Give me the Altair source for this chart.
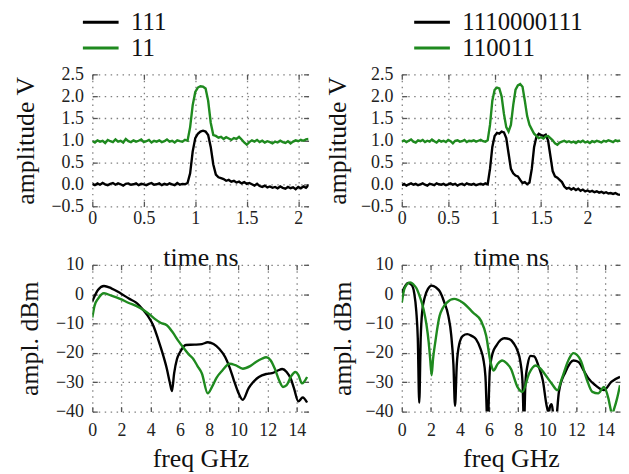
import altair as alt
import pandas as pd

# ---------------- data ----------------
TL_NAMES = ["111", "11"]
TR_NAMES = ["1110000111", "110011"]
STEP_T = 0.025

TL_BLACK = [0.01, -0.02, 0.02, -0.01, 0.03, 0.00, -0.02, 0.01, 0.03, -0.01, 0.02, 0.00, -0.03, 0.01,
            0.02, -0.01, 0.00, 0.02, -0.02, 0.01, 0.00, -0.02, 0.01, 0.03, -0.01, 0.00, 0.02, -0.02,
            0.01, -0.01, 0.02, 0.00, -0.02, 0.03, -0.01, 0.01, 0.00, 0.03,
            0.25, 0.75, 1.05, 1.15, 1.20, 1.22, 1.20, 1.12, 0.85, 0.45, 0.22, 0.16, 0.14, 0.12, 0.08,
            0.10, 0.06, 0.08, 0.04, 0.06, 0.02, 0.05, 0.01, 0.03, 0.00, -0.03, 0.01, -0.04, -0.06,
            -0.03, -0.07, -0.05, -0.08, -0.06, -0.09, -0.05, -0.08, -0.10, -0.06, -0.09, -0.07,
            -0.11, -0.06, -0.09, -0.05, -0.08, -0.02]
TL_GREEN = [0.98, 0.95, 1.00, 0.97, 0.99, 0.94, 1.01, 0.98, 0.96, 1.02, 0.97, 0.99, 0.95, 1.03,
            0.98, 0.96, 1.00, 0.97, 0.99, 1.02, 0.96, 0.98, 1.01, 0.95, 0.99, 0.97, 1.00, 0.96,
            0.98, 1.02, 0.97, 0.99, 0.95, 1.00, 0.98, 0.97, 1.01, 0.99,
            1.30, 1.80, 2.10, 2.20, 2.23, 2.22, 2.18, 1.90, 1.40, 1.12, 1.10, 1.06, 1.08, 1.03, 1.07,
            1.04, 1.01, 1.05, 1.03, 1.08, 1.02, 0.95, 0.90, 0.96, 1.00, 0.97, 1.01, 0.96, 0.99,
            0.95, 0.98, 0.96, 0.93, 0.97, 0.95, 0.99, 0.96, 0.94, 0.98, 0.93, 0.97, 1.00, 0.98,
            1.01, 0.99, 1.02, 1.03]
TR_BLACK = [-0.02, 0.01, -0.03, 0.00, 0.02, -0.01, 0.01, -0.02, 0.00, 0.02, -0.01, -0.03, 0.01,
            0.00, -0.02, 0.02, 0.00, -0.01, 0.01, -0.02, 0.00, 0.02, -0.01, 0.01, -0.03, 0.00,
            0.01, -0.02, 0.02, 0.00, -0.01, 0.01, -0.02, 0.00, 0.01, -0.01, 0.02, 0.00,
            0.35, 0.85, 1.10, 1.17, 1.15, 1.20, 1.18, 1.05, 0.70, 0.35, 0.25, 0.20, 0.18, 0.10,
            0.03, 0.05, 0.00, 0.04,
            0.35, 0.85, 1.08, 1.15, 1.12, 1.10, 1.13, 1.00, 0.65, 0.30, 0.18, 0.15, 0.10, 0.05,
            -0.05, -0.10,
            -0.08, -0.12, -0.09, -0.13, -0.10, -0.15, -0.12, -0.16, -0.14, -0.17, -0.15, -0.18,
            -0.16, -0.19, -0.17, -0.20, -0.18, -0.21, -0.20, -0.22, -0.20, -0.23, -0.24]
TR_GREEN = [0.97, 1.00, 0.96, 0.99, 1.02, 0.97, 0.95, 1.00, 0.98, 1.01, 0.96, 0.99, 0.97, 1.02,
            0.98, 0.95, 1.00, 0.97, 0.99, 0.96, 1.01, 0.98, 0.93, 0.99, 1.00, 0.97, 0.98, 1.01,
            0.96, 0.99, 0.98, 1.00, 0.97, 0.99, 1.01, 0.98, 0.97, 1.00,
            1.35, 1.90, 2.15, 2.20, 2.18, 2.00, 1.60, 1.30, 1.20, 1.35, 1.80, 2.15, 2.25, 2.28,
            2.22, 1.90, 1.55, 1.35,
            1.25, 1.15, 1.10, 1.05, 1.07, 1.04, 1.09, 1.10, 1.05, 1.00, 0.93, 0.90, 0.95, 0.97,
            0.99, 0.96,
            0.98, 0.95, 0.97, 0.94, 0.98, 0.96, 0.99, 0.95, 0.97, 0.94, 0.98, 0.96, 0.99, 0.97,
            0.95, 0.99, 0.97, 1.00, 0.98, 0.96, 1.00, 0.98, 1.00]

BL_BLACK_F = [0, 0.4, 0.8, 1.3, 1.9, 2.5, 3.0, 3.5, 3.8, 4.2, 4.5, 4.8, 5.1, 5.3, 5.45, 5.6, 5.8,
              6.0, 6.4, 7.0, 7.5, 7.9, 8.3, 8.7, 9.1, 9.4, 9.7, 9.95, 10.3, 10.7, 11.0, 11.4,
              11.9, 12.3, 12.7, 13.0, 13.3, 13.6, 13.8, 14.1, 14.4, 14.7]
BL_BLACK_V = [-2.4, 1.5, 2.8, 2.0, 0.4, -1.5, -2.9, -5.5, -7.4, -11, -15.3, -20, -25.4, -30, -33,
              -27, -22, -19.8, -17.3, -17.2, -17.0, -16.4, -17.0, -18.7, -21.5, -25, -29.5, -33,
              -36, -32, -30, -28.2, -27.2, -26.9, -26.0, -25.5, -26.5, -29, -32, -36.5, -35.2,
              -36.9]
BL_GREEN_F = [0, 0.15, 0.4, 0.8, 1.3, 1.9, 2.5, 3.0, 3.6, 4.0, 4.3, 4.7, 5.1, 5.5, 5.9, 6.2, 6.6,
              6.9, 7.2, 7.5, 7.9, 8.2, 8.5, 8.9, 9.4, 9.8, 10.3, 10.8, 11.2, 11.6, 11.9, 12.2,
              12.5, 12.8, 13.05, 13.3, 13.6, 13.9, 14.1, 14.35, 14.7]
BL_GREEN_V = [-8, -4, -1.5, 0.3, -0.5, -1.6, -3.0, -4.0, -5.7, -7.2, -8.5, -9.8, -10.6, -13, -16,
              -18, -20.5, -22, -24.5, -27, -33.8, -31.5, -28.5, -26, -23.7, -24.2, -25.4, -24.5,
              -23.1, -22, -21.5, -22.5, -25.5, -29.5, -31.6, -31, -28, -26.5, -27.5, -30.4, -28.2]

BR_BLACK_F = [0, 0.2, 0.45, 0.7, 0.85, 1.0, 1.1, 1.2, 1.3, 1.4, 1.6, 1.8, 2.05, 2.35, 2.6, 2.9,
              3.2, 3.4, 3.55, 3.66, 3.78, 3.95, 4.2, 4.5, 4.8, 5.1, 5.4, 5.6, 5.75, 5.9, 6.05,
              6.25, 6.5, 6.8, 7.05, 7.4, 7.7, 7.95, 8.15, 8.3, 8.4, 8.5, 8.65, 8.86, 9.1, 9.4,
              9.7, 9.95, 10.1, 10.2, 10.3, 10.4, 10.55, 10.8, 11.25, 11.8, 12.15, 12.5, 12.8,
              13.3, 13.9, 14.4, 15.0]
BR_BLACK_V = [0.4, 2.5, 3.8, 3.0, 0.5, -6, -15, -37, -15, -6, -0.7, 1.8, 2.9, 2.3, 1.0, -2.5,
              -7.4, -14, -24, -38, -24, -17, -14.2, -13.6, -14.2, -15.3, -18.5, -22, -28, -45,
              -26, -20, -17.5, -15.6, -15, -15.3, -16.8, -19.2, -23, -30, -45, -30, -24, -21,
              -21.2, -24.5, -29.5, -37.8, -40.5, -38, -37.5, -40.5, -45, -33.3, -26.5, -22.6,
              -23.1, -26, -28.5, -31, -32.7, -29.9, -28.2]
BR_GREEN_F = [0, 0.2, 0.57, 0.8, 1.0, 1.25, 1.5, 1.7, 1.85, 1.95, 2.05, 2.15, 2.3, 2.6, 3.1, 3.6,
              4.2, 4.9, 5.45, 5.8, 6.1, 6.3, 6.6, 6.9, 7.2, 7.5, 7.95, 8.3, 8.75, 9.2, 9.5, 9.8,
              10.3, 10.7, 11.0, 11.5, 11.8, 12.3, 12.7, 13.1, 13.5, 13.9, 14.2, 14.35, 14.45,
              14.6, 14.8, 15.0]
BR_GREEN_V = [-2.9, 2.1, 4.0, 3.3, 2.1, -1.0, -5.2, -10.5, -16.4, -22, -27.6, -22, -16.4, -7.4,
              -2.9, -1.6, -2.9, -6.3, -9.1, -14.2, -23.1, -26, -23.7, -22.6, -23.5, -25.4, -31.6,
              -33.3, -27, -24.3, -25.2, -27, -30.4, -32.7, -28.8, -22, -20.1, -22.6, -28.8, -33.3,
              -33.8, -31.6, -35.5, -39, -41, -39, -35.5, -31]

TIME_TICKS = [0, 0.5, 1, 1.5, 2]
AMP_TICKS = [-0.5, 0.0, 0.5, 1.0, 1.5, 2.0, 2.5]
FREQ_TICKS = [0, 2, 4, 6, 8, 10, 12, 14]
DBM_TICKS = [-40, -30, -20, -10, 0, 10]

# ---------------- style ----------------
FONT = "Liberation Serif"
BLACK = "#000000"
GREEN = "#1f8a1f"
GRIDC = "#808080"
TICKC = "#555555"


def grid_of(n):
    return [round(i * STEP_T, 3) for i in range(n)]


def long_df(pairs):
    rows = []
    for xs, ys, name in pairs:
        for x, y in zip(xs, ys):
            rows.append({"x": x, "y": y, "s": name})
    return pd.DataFrame(rows)


def panel(df, names, xdom, xvals, xfmt, ydom, yvals, yfmt, xtitle, ytitle, w, h,
          legend_x=None, interp="linear", xlabpad=4, xtitlepad=14, ytitlepad=12):
    xs = alt.Scale(domain=xdom, nice=False, zero=False)
    ys = alt.Scale(domain=ydom, nice=False, zero=False)
    main_x = alt.Axis(values=xvals, format=xfmt, title=xtitle, grid=True, ticks=False,
                      domain=False, labelPadding=xlabpad, titlePadding=xtitlepad,
                      labelFlush=False)
    main_y = alt.Axis(values=yvals, format=yfmt, title=ytitle, grid=True, ticks=False,
                      domain=False, labelPadding=9, titlePadding=ytitlepad)
    if legend_x is None:
        leg = None
    else:
        leg = alt.Legend(title=None, orient="none", legendX=legend_x, legendY=-65,
                         symbolType="M-2,0L2,0", symbolSize=324, symbolStrokeWidth=3,
                         symbolOffset=6,
                         labelFont=FONT, labelFontSize=25, labelColor="#111",
                         labelOffset=18, rowPadding=-1, padding=0, labelLimit=300)
    color = alt.Color("s:N", scale=alt.Scale(domain=names, range=[BLACK, GREEN]),
                      legend=leg, sort=names)
    lines = alt.Chart(df).mark_line(strokeWidth=2.4, clip=True, interpolate=interp).encode(
        x=alt.X("x:Q", scale=xs, axis=main_x),
        y=alt.Y("y:Q", scale=ys, axis=main_y),
        color=color,
    )
    tick_common = dict(labels=False, title=None, grid=False, domain=False, ticks=True,
                       tickSize=5, tickWidth=1.3, tickColor=TICKC)
    t1 = alt.Chart(df).mark_line(opacity=0).encode(
        x=alt.X("x:Q", scale=xs, axis=alt.Axis(orient="top", offset=-h, values=xvals, **tick_common)),
        y=alt.Y("y:Q", scale=ys, axis=alt.Axis(orient="right", offset=-w, values=yvals, **tick_common)),
    )
    t2 = alt.Chart(df).mark_line(opacity=0).encode(
        x=alt.X("x:Q", scale=xs, axis=alt.Axis(orient="bottom", offset=-h, values=xvals, **tick_common)),
        y=alt.Y("y:Q", scale=ys, axis=alt.Axis(orient="left", offset=-w, values=yvals, **tick_common)),
    )
    return alt.layer(lines, t1, t2).resolve_axis(x="independent", y="independent").properties(
        width=w, height=h)


df_tl = long_df([(grid_of(len(TL_BLACK)), TL_BLACK, TL_NAMES[0]),
                 (grid_of(len(TL_GREEN)), TL_GREEN, TL_NAMES[1])])
df_tr = long_df([(grid_of(len(TR_BLACK)), TR_BLACK, TR_NAMES[0]),
                 (grid_of(len(TR_GREEN)), TR_GREEN, TR_NAMES[1])])
df_bl = long_df([(BL_BLACK_F, BL_BLACK_V, TL_NAMES[0]), (BL_GREEN_F, BL_GREEN_V, TL_NAMES[1])])
df_br = long_df([(BR_BLACK_F, BR_BLACK_V, TR_NAMES[0]), (BR_GREEN_F, BR_GREEN_V, TR_NAMES[1])])

tl = panel(df_tl, TL_NAMES, [0, 2.1], TIME_TICKS, "~g", [-0.5, 2.5], AMP_TICKS, ".1f",
           "time ns", "amplitude V", 218, 133, legend_x=-10, xlabpad=3, xtitlepad=18,
           ytitlepad=13)
tr = panel(df_tr, TR_NAMES, [0, 2.35], TIME_TICKS, "~g", [-0.5, 2.5], AMP_TICKS, ".1f",
           "time ns", "amplitude V", 220, 133, legend_x=12, xlabpad=3, xtitlepad=18,
           ytitlepad=10)
bl = panel(df_bl, TL_NAMES, [0, 14.8], FREQ_TICKS, "d", [-40, 10], DBM_TICKS, "d",
           "freq GHz", "ampl. dBm", 218, 148, interp="monotone", xlabpad=10, xtitlepad=6,
           ytitlepad=13)
br = panel(df_br, TR_NAMES, [0, 15], FREQ_TICKS, "d", [-40, 10], DBM_TICKS, "d",
           "freq GHz", "ampl. dBm", 220, 148, interp="monotone", xlabpad=10, xtitlepad=6,
           ytitlepad=10)

chart = alt.concat(
    tl, tr, bl, br, columns=2, spacing={"row": 59, "column": 94}, bounds="flush"
).resolve_scale(
    color="independent"
).properties(
    padding={"left": 4, "top": 0, "right": 0, "bottom": 0}
).configure(
    font=FONT,
    background="white",
).configure_view(
    stroke=None
).configure_axis(
    labelFont=FONT, labelFontSize=18, labelColor="#222",
    titleFont=FONT, titleFontSize=26, titleFontWeight="normal", titleColor="#111",
    gridColor=GRIDC, gridDash=[1.5, 4.5], gridWidth=1.3,
)

chart.save("out.html", embed_options={"renderer": "svg", "actions": False})
